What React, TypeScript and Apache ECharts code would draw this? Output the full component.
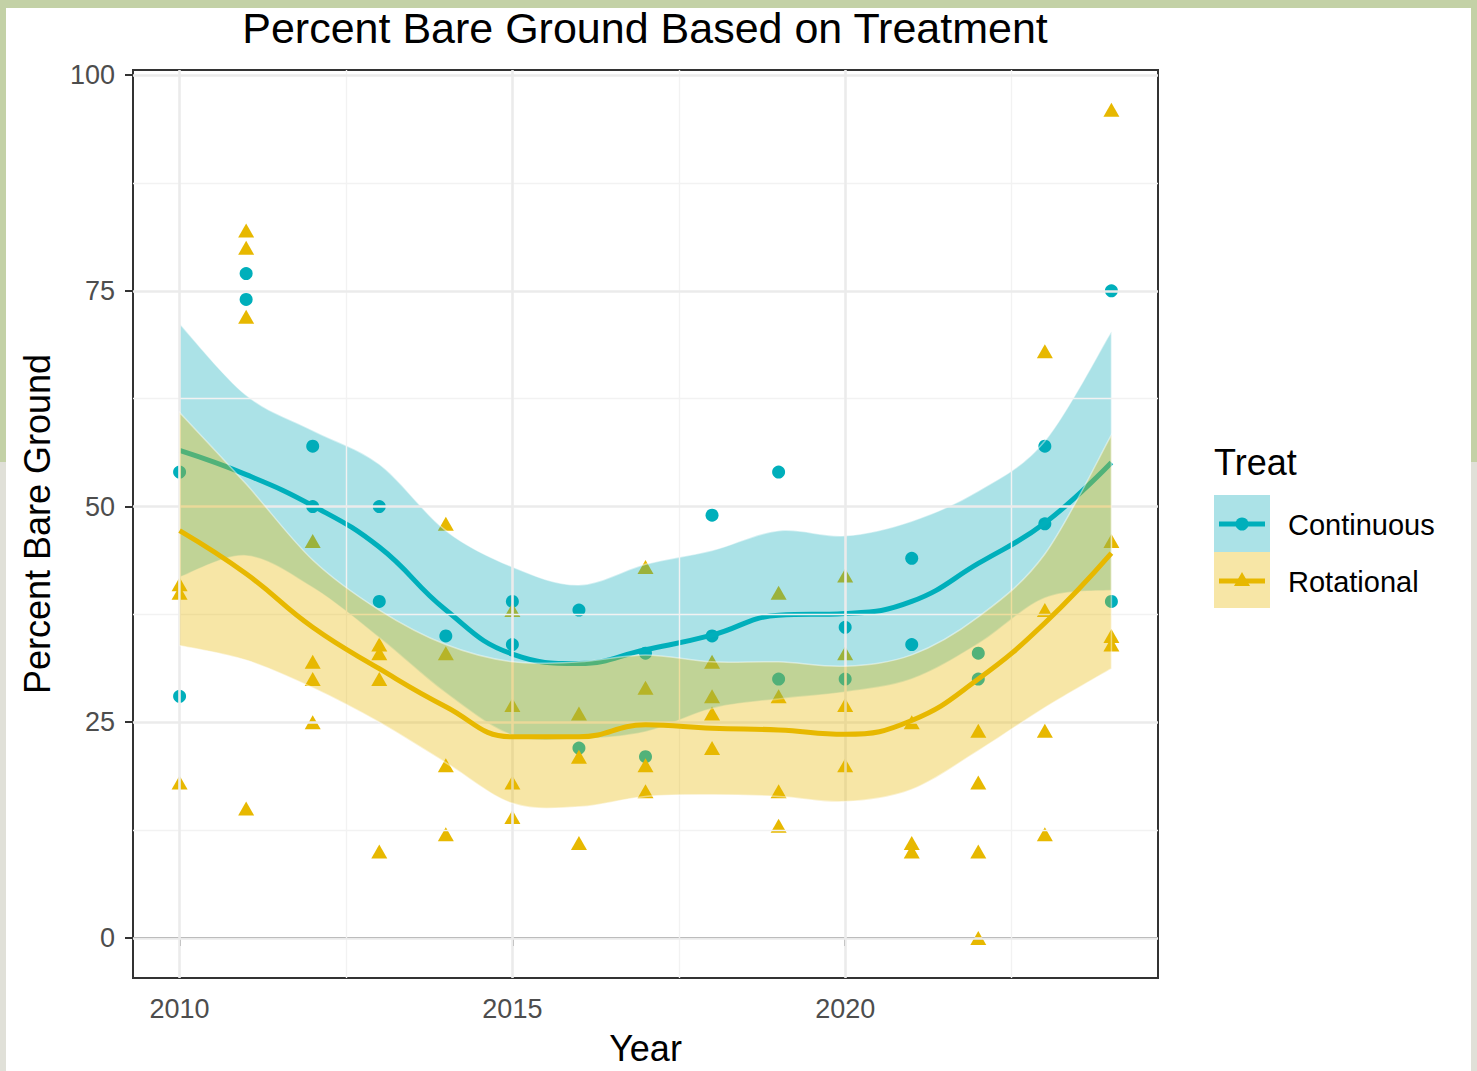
import React, { useEffect, useRef } from "react";
import * as echarts from "echarts";

const TEAL = "#00AFBB";
const GOLD = "#E7B800";
const TEAL_BAND = "rgba(0,168,182,0.33)";
const GOLD_BAND = "rgba(231,184,0,0.35)";
const FONT = "Liberation Sans, Arial, Helvetica, sans-serif";

const years = [2010, 2011, 2012, 2013, 2014, 2015, 2016, 2017, 2018, 2019, 2020, 2021, 2022, 2023, 2024];

const continuousPoints: [number, number][] = [
  [2010, 54], [2010, 28], [2011, 77], [2011, 74], [2012, 57], [2012, 50],
  [2013, 50], [2013, 39], [2014, 35], [2015, 39], [2015, 34], [2016, 38], [2016, 22],
  [2017, 33], [2017, 21], [2018, 49], [2018, 35], [2019, 54], [2019, 30],
  [2020, 36], [2020, 30], [2021, 44], [2021, 34], [2022, 33], [2022, 30],
  [2023, 57], [2023, 48], [2024, 75], [2024, 39],
];

const rotationalPoints: [number, number][] = [
  [2010, 41], [2010, 40], [2010, 18],
  [2011, 82], [2011, 80], [2011, 72], [2011, 15],
  [2012, 46], [2012, 32], [2012, 30], [2012, 25],
  [2013, 34], [2013, 33], [2013, 30], [2013, 10],
  [2014, 48], [2014, 33], [2014, 20], [2014, 12],
  [2015, 38], [2015, 27], [2015, 18], [2015, 14],
  [2016, 26], [2016, 21], [2016, 11],
  [2017, 43], [2017, 29], [2017, 20], [2017, 17],
  [2018, 32], [2018, 28], [2018, 26], [2018, 22],
  [2019, 40], [2019, 28], [2019, 17], [2019, 13],
  [2020, 42], [2020, 33], [2020, 27], [2020, 20],
  [2021, 25], [2021, 11], [2021, 10],
  [2022, 24], [2022, 18], [2022, 10], [2022, 0],
  [2023, 68], [2023, 38], [2023, 24], [2023, 12],
  [2024, 96], [2024, 46], [2024, 35], [2024, 34],
];

const contFit = [56.5, 53.7, 50.1, 45.3, 38, 32.9, 31.8, 33.4, 35.1, 37.4, 37.6, 39, 43.4, 48.1, 55.1];
const contUpper = [71.2, 62.9, 58.8, 54.9, 47.2, 43, 40.9, 43.3, 44.9, 47.2, 46.6, 48.3, 51.8, 57.6, 70.3];
const contLower = [41.8, 44.3, 40.6, 34.8, 28.4, 23.5, 23.1, 23.9, 26.6, 27.7, 28.5, 30, 34.1, 39.4, 40.3];

const rotFit = [47.2, 42.2, 36, 31.2, 26.8, 23.3, 23.3, 24.7, 24.3, 24.1, 23.6, 25.2, 30, 36.5, 44.6];
const rotUpper = [60.9, 52.6, 43.8, 38, 34, 32, 32, 32.8, 32, 32, 31.5, 32.8, 37.2, 44.5, 58.3];
const rotLower = [33.9, 32.2, 29, 25, 20.3, 15.6, 15.2, 16.4, 16.6, 16.4, 15.8, 17.2, 21.7, 26.7, 31.2];

const xTicks = [2010, 2015, 2020];
const xMinor = [2012.5, 2017.5, 2022.5];
const yTicks = [0, 25, 50, 75, 100];
const yMinor = [12.5, 37.5, 62.5, 87.5];

const X_MIN = 2009.3;
const X_MAX = 2024.7;
const Y_MIN = -4.65;
const Y_MAX = 100.6;

const pair = (vals: number[]) => years.map((y, i) => [y, vals[i]]);

// Smooth path (Catmull-Rom -> cubic Bezier) through pixel points.
function curveSegs(pts: number[][], t: number): string {
  let d = "";
  const n = pts.length;
  for (let i = 0; i < n - 1; i++) {
    const p0 = pts[Math.max(0, i - 1)];
    const p1 = pts[i];
    const p2 = pts[i + 1];
    const p3 = pts[Math.min(n - 1, i + 2)];
    const c1x = p1[0] + ((p2[0] - p0[0]) / 6) * t;
    const c1y = p1[1] + ((p2[1] - p0[1]) / 6) * t;
    const c2x = p2[0] - ((p3[0] - p1[0]) / 6) * t;
    const c2y = p2[1] - ((p3[1] - p1[1]) / 6) * t;
    d += ` C${c1x.toFixed(2)},${c1y.toFixed(2)} ${c2x.toFixed(2)},${c2y.toFixed(2)} ${p2[0].toFixed(2)},${p2[1].toFixed(2)}`;
  }
  return d;
}

function bandSeries(name: string, lower: number[], upper: number[], fill: string, z: number) {
  return {
    name,
    type: "custom",
    z,
    silent: true,
    data: years.map((y, i) => [y, lower[i], upper[i]]),
    encode: { x: 0, y: [1, 2] },
    renderItem: (params: any, api: any) => {
      if (params.dataIndex !== 0) return { type: "group", children: [] };
      const up = years.map((y, i) => api.coord([y, upper[i]]));
      const lo = years.map((y, i) => api.coord([y, lower[i]])).reverse();
      let d = `M${up[0][0].toFixed(2)},${up[0][1].toFixed(2)}`;
      d += curveSegs(up, 1);
      d += ` L${lo[0][0].toFixed(2)},${lo[0][1].toFixed(2)}`;
      d += curveSegs(lo, 1);
      d += " Z";
      return {
        type: "path",
        shape: { pathData: d },
        style: { fill, stroke: "rgba(255,255,255,0.45)", lineWidth: 1.5 },
      };
    },
  };
}

function buildOption(): any {
  const majorStyle = { color: "#EBEBEB", width: 2.6, type: "solid" };
  const minorStyle = { color: "#F2F2F2", width: 1.4, type: "solid" };
  const gridLines = [
    ...xMinor.map((v) => ({ xAxis: v, lineStyle: minorStyle })),
    ...yMinor.map((v) => ({ yAxis: v, lineStyle: minorStyle })),
    ...xTicks.map((v) => ({ xAxis: v, lineStyle: majorStyle })),
    ...yTicks.map((v) => ({ yAxis: v, lineStyle: majorStyle })),
  ];

  return {
    animation: false,
    backgroundColor: "#ffffff",
    textStyle: { fontFamily: FONT },
    grid: {
      left: 133,
      top: 70,
      right: 319,
      bottom: 89,
      show: true,
      borderColor: "#333333",
      borderWidth: 2,
      backgroundColor: "transparent",
      containLabel: false,
    },
    xAxis: {
      type: "value",
      min: X_MIN,
      max: X_MAX,
      name: "Year",
      nameLocation: "middle",
      nameGap: 52,
      nameTextStyle: { fontSize: 36, color: "#000", fontFamily: FONT },
      axisLine: { show: true, lineStyle: { color: "#333333", width: 2 } },
      axisTick: { show: true, length: 8, lineStyle: { color: "#333333", width: 2 }, customValues: xTicks },
      axisLabel: {
        show: true,
        customValues: xTicks,
        fontSize: 27,
        color: "#4D4D4D",
        fontFamily: FONT,
        margin: 17,
        formatter: (v: number) => String(v),
      },
      splitLine: { show: false },
    },
    yAxis: {
      type: "value",
      min: Y_MIN,
      max: Y_MAX,
      name: "Percent Bare Ground",
      nameLocation: "middle",
      nameGap: 78,
      nameTextStyle: { fontSize: 36, color: "#000", fontFamily: FONT },
      axisLine: { show: true, lineStyle: { color: "#333333", width: 2 } },
      axisTick: { show: true, length: 8, lineStyle: { color: "#333333", width: 2 }, customValues: yTicks },
      axisLabel: {
        show: true,
        customValues: yTicks,
        fontSize: 27,
        color: "#4D4D4D",
        fontFamily: FONT,
        margin: 18,
        formatter: (v: number) => String(v),
      },
      splitLine: { show: false },
    },
    series: [
      {
        name: "grid",
        type: "line",
        data: [],
        z: 1,
        silent: true,
        markLine: {
          silent: true,
          symbol: ["none", "none"],
          label: { show: false },
          emphasis: { disabled: true },
          data: gridLines,
        },
      },
      {
        name: "Continuous points",
        type: "scatter",
        z: 2,
        symbol: "circle",
        symbolSize: 13,
        itemStyle: { color: TEAL, opacity: 1 },
        data: continuousPoints,
      },
      {
        name: "Rotational points",
        type: "scatter",
        z: 2,
        symbol: "triangle",
        symbolSize: [16, 14],
        itemStyle: { color: GOLD, opacity: 1 },
        data: rotationalPoints,
      },
      bandSeries("Continuous CI", contLower, contUpper, TEAL_BAND, 3),
      {
        name: "Continuous",
        type: "line",
        z: 4,
        smooth: 0.45,
        showSymbol: false,
        symbol: "none",
        lineStyle: { color: TEAL, width: 5 },
        data: pair(contFit),
      },
      bandSeries("Rotational CI", rotLower, rotUpper, GOLD_BAND, 5),
      {
        name: "Rotational",
        type: "line",
        z: 6,
        smooth: 0.45,
        showSymbol: false,
        symbol: "none",
        lineStyle: { color: GOLD, width: 5 },
        data: pair(rotFit),
      },
    ],
    graphic: [
      { type: "rect", z: 0, shape: { x: 0, y: 0, width: 1477, height: 8 }, style: { fill: "#C3D1A6" } },
      { type: "rect", z: 0, shape: { x: 0, y: 0, width: 6, height: 462 }, style: { fill: "#C3D1A6" } },
      { type: "rect", z: 0, shape: { x: 0, y: 462, width: 6, height: 609 }, style: { fill: "#E0E0D8" } },
      { type: "rect", z: 0, shape: { x: 1471, y: 0, width: 6, height: 462 }, style: { fill: "#C3D1A6" } },
      { type: "rect", z: 0, shape: { x: 1471, y: 462, width: 6, height: 609 }, style: { fill: "#E0E0D8" } },
      {
        type: "text",
        x: 645,
        y: 28,
        style: {
          text: "Percent Bare Ground Based on Treatment",
          fontSize: 43,
          fontFamily: FONT,
          fill: "#000",
          textAlign: "center",
          textVerticalAlign: "middle",
        },
      },
      {
        type: "text",
        x: 1214,
        y: 462,
        style: { text: "Treat", fontSize: 36, fontFamily: FONT, fill: "#000", textAlign: "left", textVerticalAlign: "middle" },
      },
      { type: "rect", shape: { x: 1214, y: 495, width: 56, height: 57 }, style: { fill: TEAL_BAND } },
      { type: "rect", shape: { x: 1214, y: 552, width: 56, height: 56 }, style: { fill: GOLD_BAND } },
      { type: "line", shape: { x1: 1219, y1: 524, x2: 1265, y2: 524 }, style: { stroke: TEAL, lineWidth: 5 } },
      { type: "circle", shape: { cx: 1242, cy: 524, r: 6.5 }, style: { fill: TEAL } },
      { type: "line", shape: { x1: 1219, y1: 581, x2: 1265, y2: 581 }, style: { stroke: GOLD, lineWidth: 5 } },
      { type: "polygon", shape: { points: [[1242, 572], [1234, 586], [1250, 586]] }, style: { fill: GOLD } },
      {
        type: "text",
        x: 1288,
        y: 525,
        style: { text: "Continuous", fontSize: 29, fontFamily: FONT, fill: "#000", textAlign: "left", textVerticalAlign: "middle" },
      },
      {
        type: "text",
        x: 1288,
        y: 582,
        style: { text: "Rotational", fontSize: 29, fontFamily: FONT, fill: "#000", textAlign: "left", textVerticalAlign: "middle" },
      },
    ],
  };
}

export default function App() {
  const ref = useRef<HTMLDivElement>(null);
  useEffect(() => {
    if (!ref.current) return;
    const chart = echarts.init(ref.current, null, { renderer: "svg" });
    chart.setOption(buildOption());
    return () => chart.dispose();
  }, []);
  return (
    <div
      ref={ref}
      style={{ position: "fixed", left: 0, top: 0, width: 1477, height: 1071, background: "#ffffff" }}
    />
  );
}
